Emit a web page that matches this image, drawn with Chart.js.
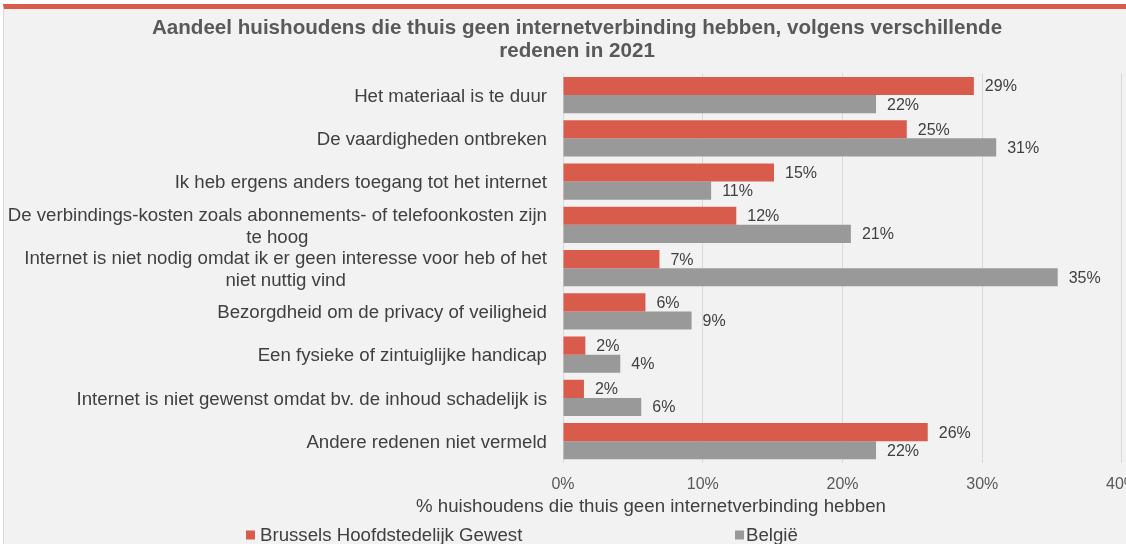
<!DOCTYPE html>
<html>
<head>
<meta charset="utf-8">
<script src="https://cdn.jsdelivr.net/npm/chart.js@4/dist/chart.umd.min.js"></script>
<style>
  html, body { margin: 0; padding: 0; background: #fff; overflow: hidden; }
  #frame {
    position: absolute; left: 3px; top: 4px;
    width: 1123px; height: 540px;
    border-top: 5px solid #d95b4b;
    border-left: 1px solid #d9d9d9;
    background: #f2f2f2;
    overflow: hidden;
  }
  canvas { display: block; }
</style>
</head>
<body>
<div id="frame"><canvas id="chart" width="1146" height="535"></canvas></div>
<script>
// ── Data ──

const categories = [
  ['Het materiaal is te duur'],
  ['De vaardigheden ontbreken'],
  ['Ik heb ergens anders toegang tot het internet'],
  ['De verbindings-kosten zoals abonnements- of telefoonkosten zijn', 'te hoog'],
  ['Internet is niet nodig omdat ik er geen interesse voor heb of het', 'niet nuttig vind'],
  ['Bezorgdheid om de privacy of veiligheid'],
  ['Een fysieke of zintuiglijke handicap'],
  ['Internet is niet gewenst omdat bv. de inhoud schadelijk is'],
  ['Andere redenen niet vermeld'],
];

const brussels = [29.4, 24.6, 15.1, 12.4, 6.9, 5.9, 1.6, 1.5, 26.1];
const belgie = [22.4, 31.0, 10.6, 20.6, 35.4, 9.2, 4.1, 5.6, 22.4];

const xTicks = [0, 10, 20, 30, 40];

const titleLines = [
  'Aandeel huishoudens die thuis geen internetverbinding hebben, volgens verschillende',
  'redenen in 2021',
];
const xTitle = '% huishoudens die thuis geen internetverbinding hebben';

// ── Style ──

const FONT = '"Liberation Sans", Arial, sans-serif';
const RED = '#d95b4b';
const GREY = '#999999';
const TEXT = '#404040';

// ── Plugins ──

// category labels: block right-aligned, wrapped lines centred (like Excel)
const catLabels = {
  id: 'catLabels',
  afterDraw(chart) {
    const { ctx, chartArea } = chart;
    const y = chart.scales.y;
    ctx.save();
    ctx.font = `18.67px ${FONT}`;
    ctx.fillStyle = TEXT;
    ctx.textAlign = 'center';
    ctx.textBaseline = 'middle';
    const right = chartArea.left - 16;
    chart.data.labels.forEach((lines, i) => {
      const cy = y.getPixelForTick(i) + 1.5;
      const w = Math.max(...lines.map(l => ctx.measureText(l).width));
      lines.forEach((l, j) => ctx.fillText(l, right - w / 2, cy + (j - (lines.length - 1) / 2) * 22));
    });

    // x axis title
    ctx.fillText(xTitle, 647, 497.5);

    // legend
    ctx.textAlign = 'left';
    const legendX = [242, 731];
    chart.data.datasets.forEach((ds, i) => {
      ctx.fillStyle = ds.backgroundColor;
      ctx.fillRect(legendX[i], 521.5, 9, 9);
      ctx.fillStyle = TEXT;
      ctx.fillText(ds.label, legendX[i] + (i ? 11 : 14), 526.5);
    });
    ctx.restore();
  },
};

// value labels next to each bar
const valueLabels = {
  id: 'valueLabels',
  afterDatasetsDraw(chart) {
    const { ctx } = chart;
    ctx.save();
    ctx.font = `16px ${FONT}`;
    ctx.fillStyle = TEXT;
    ctx.textAlign = 'left';
    ctx.textBaseline = 'middle';
    chart.data.datasets.forEach((ds, i) => {
      chart.getDatasetMeta(i).data.forEach((bar, j) => {
        ctx.fillText(Math.round(ds.data[j]) + '%', bar.x + 11, bar.y + 1);
      });
    });
    ctx.restore();
  },
};

// ── Chart ──

new Chart(document.getElementById('chart'), {
  type: 'bar',
  data: {
    labels: categories,
    datasets: [
      { label: 'Brussels Hoofdstedelijk Gewest', data: brussels, backgroundColor: RED },
      { label: 'België', data: belgie, backgroundColor: GREY },
    ],
  },
  options: {
    indexAxis: 'y',
    responsive: false,
    animation: false,
    categoryPercentage: 0.835,
    barPercentage: 1,
    layout: { padding: { left: 17, right: 17, top: 0, bottom: 38 } },
    plugins: {
      legend: { display: false },
      tooltip: { enabled: false },
      title: {
        display: true,
        text: titleLines,
        color: '#595959',
        font: { family: FONT, size: 20.6, weight: 'bold', lineHeight: 1.13 },
        padding: { top: 7.4, bottom: 10.5 },
      },
    },
    scales: {
      x: {
        min: 0,
        max: 40,
        afterBuildTicks: s => { s.ticks = xTicks.map(v => ({ value: v })); },
        ticks: {
          color: '#595959',
          font: { family: FONT, size: 16 },
          padding: 12,
          callback: v => v + '%',
        },
        grid: { color: '#d9d9d9', drawTicks: false },
        border: { display: false },
      },
      y: {
        ticks: { display: false },
        grid: { display: false },
        border: { display: false },
        afterFit: s => { s.width = 542; },
      },
    },
  },
  plugins: [catLabels, valueLabels],
});
</script>
</body>
</html>
